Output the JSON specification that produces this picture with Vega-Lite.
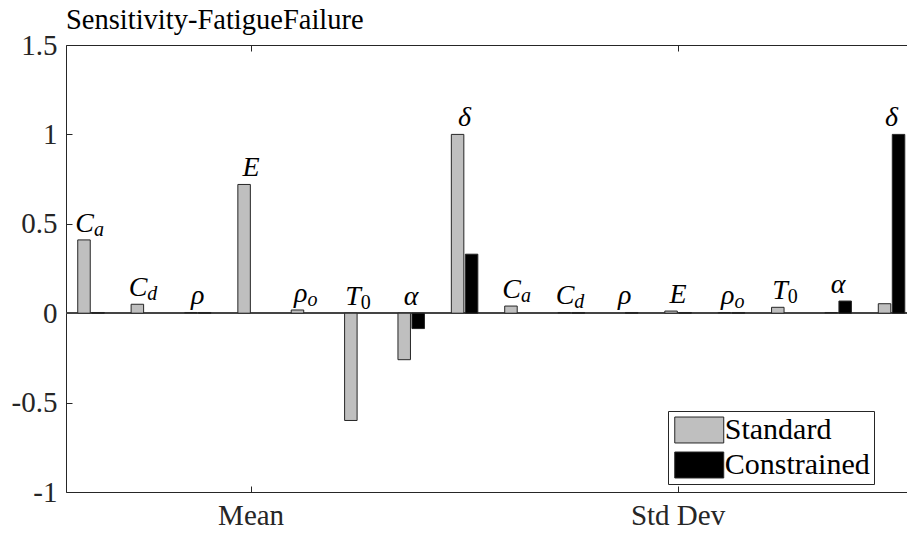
{
  "$schema": "https://vega.github.io/schema/vega-lite/v6.json",
  "width": 841,
  "height": 447,
  "autosize": {"type": "none"},
  "padding": {"left": 66, "top": 45, "right": 0, "bottom": 43},
  "background": "white",
  "title": {
    "text": "Sensitivity-FatigueFailure",
    "anchor": "start",
    "frame": "group",
    "font": "Liberation Serif",
    "fontSize": 28.5,
    "fontWeight": "normal",
    "color": "#000000",
    "baseline": "alphabetic",
    "offset": -26
  },
  "config": {
    "view": {"stroke": null},
    "axis": {
      "grid": false,
      "domainColor": "#262626",
      "tickColor": "#262626",
      "labelColor": "#262626",
      "labelFont": "Liberation Serif",
      "labelFontSize": 29,
      "titleFont": "Liberation Serif"
    }
  },
  "data": {
    "values": [
      {"g": 1, "stat": "Mean", "sym": "C", "sub": "a", "Standard": 0.41, "Constrained": 0.004},
      {"g": 2, "stat": "Mean", "sym": "C", "sub": "d", "Standard": 0.05, "Constrained": 0},
      {"g": 3, "stat": "Mean", "sym": "ρ", "sub": "", "Standard": 0.004, "Constrained": 0.004},
      {"g": 4, "stat": "Mean", "sym": "E", "sub": "", "Standard": 0.72, "Constrained": 0},
      {"g": 5, "stat": "Mean", "sym": "ρ", "sub": "o", "Standard": 0.018, "Constrained": 0},
      {"g": 6, "stat": "Mean", "sym": "T", "sub": "0", "Standard": -0.6, "Constrained": 0},
      {"g": 7, "stat": "Mean", "sym": "α", "sub": "", "Standard": -0.26, "Constrained": -0.086},
      {"g": 8, "stat": "Mean", "sym": "δ", "sub": "", "Standard": 1.0, "Constrained": 0.33},
      {"g": 9, "stat": "Std Dev", "sym": "C", "sub": "a", "Standard": 0.04, "Constrained": 0},
      {"g": 10, "stat": "Std Dev", "sym": "C", "sub": "d", "Standard": 0.004, "Constrained": 0.004},
      {"g": 11, "stat": "Std Dev", "sym": "ρ", "sub": "", "Standard": 0, "Constrained": 0.004},
      {"g": 12, "stat": "Std Dev", "sym": "E", "sub": "", "Standard": 0.012, "Constrained": 0.004},
      {"g": 13, "stat": "Std Dev", "sym": "ρ", "sub": "o", "Standard": 0.004, "Constrained": 0.004},
      {"g": 14, "stat": "Std Dev", "sym": "T", "sub": "0", "Standard": 0.033, "Constrained": 0},
      {"g": 15, "stat": "Std Dev", "sym": "α", "sub": "", "Standard": 0.004, "Constrained": 0.068},
      {"g": 16, "stat": "Std Dev", "sym": "δ", "sub": "", "Standard": 0.053, "Constrained": 1.0}
    ]
  },
  "encoding": {
    "x": {
      "field": "g",
      "type": "ordinal",
      "scale": {"paddingInner": 0.438, "paddingOuter": 0.098, "align": 0.956},
      "axis": null
    },
    "y": {
      "type": "quantitative",
      "scale": {"domain": [-1, 1.5], "nice": false, "zero": false},
      "axis": {
        "title": null,
        "values": [-1, -0.5, 0, 0.5, 1, 1.5],
        "labelExpr": "toString(datum.value)",
        "tickSize": -6,
        "labelPadding": 15
      }
    }
  },
  "layer": [
    {
      "mark": {"type": "rule", "color": "#444444", "strokeWidth": 1},
      "encoding": {"y": {"datum": 0}, "x": null}
    },
    {
      "transform": [{"fold": ["Standard", "Constrained"], "as": ["series", "value"]}],
      "mark": {"type": "bar", "strokeWidth": 1, "stroke": "#262626"},
      "encoding": {
        "y": {"field": "value", "type": "quantitative"},
        "xOffset": {
          "field": "series",
          "type": "nominal",
          "sort": ["Standard", "Constrained"],
          "scale": {"paddingInner": 0.107, "paddingOuter": 0.125}
        },
        "color": {
          "field": "series",
          "type": "nominal",
          "sort": ["Standard", "Constrained"],
          "scale": {"domain": ["Standard", "Constrained"], "range": ["#bfbfbf", "#000000"]},
          "legend": {
            "orient": "none",
            "legendX": 602,
            "legendY": 366,
            "title": null,
            "symbolType": "M-2,-1.06H2V1.06H-2Z",
            "symbolSize": 600,
            "symbolOffset": 12.25,
            "symbolStrokeColor": "#262626",
            "symbolStrokeWidth": 1,
            "symbolOpacity": 1,
            "labelFont": "Liberation Serif",
            "labelFontSize": 30,
            "labelColor": "#000000",
            "labelOffset": 10.5,
            "strokeColor": "#262626",
            "fillColor": "white",
            "padding": 4,
            "rowPadding": 5
          }
        },
        "strokeOpacity": {"condition": {"test": "datum.value === 0", "value": 0}, "value": 1},
        "opacity": {"value": 1}
      }
    },
    {
      "transform": [
        {"calculate": "max(datum.Standard, datum.Constrained, 0)", "as": "top"},
        {"filter": "datum.sub === ''"}
      ],
      "mark": {"type": "text", "font": "Liberation Serif", "fontStyle": "italic", "fontSize": 28, "color": "#000000", "align": "center", "baseline": "alphabetic", "dy": -8},
      "encoding": {"y": {"field": "top", "type": "quantitative"}, "text": {"field": "sym"}}
    },
    {
      "transform": [
        {"calculate": "max(datum.Standard, datum.Constrained, 0)", "as": "top"},
        {"filter": "datum.sub !== ''"}
      ],
      "mark": {"type": "text", "font": "Liberation Serif", "fontStyle": "italic", "fontSize": 28, "color": "#000000", "align": "right", "baseline": "alphabetic", "dx": 3, "dy": -8},
      "encoding": {"y": {"field": "top", "type": "quantitative"}, "text": {"field": "sym"}}
    },
    {
      "transform": [
        {"calculate": "max(datum.Standard, datum.Constrained, 0)", "as": "top"},
        {"filter": "datum.sub !== '' && datum.sub !== '0'"}
      ],
      "mark": {"type": "text", "font": "Liberation Serif", "fontStyle": "italic", "fontSize": 20, "color": "#000000", "align": "left", "baseline": "alphabetic", "dx": 3, "dy": -4},
      "encoding": {"y": {"field": "top", "type": "quantitative"}, "text": {"field": "sub"}}
    },
    {
      "transform": [
        {"calculate": "max(datum.Standard, datum.Constrained, 0)", "as": "top"},
        {"filter": "datum.sub === '0'"}
      ],
      "mark": {"type": "text", "font": "Liberation Serif", "fontStyle": "normal", "fontSize": 20, "color": "#000000", "align": "left", "baseline": "alphabetic", "dx": 3, "dy": -4},
      "encoding": {"y": {"field": "top", "type": "quantitative"}, "text": {"field": "sub"}}
    },
    {
      "mark": {"type": "text", "opacity": 0},
      "encoding": {
        "x": {
          "field": "g",
          "type": "ordinal",
          "axis": {
            "orient": "bottom",
            "title": null,
            "values": [4, 12],
            "labelExpr": "datum.value == 4 ? 'Mean' : 'Std Dev'",
            "labelAngle": 0,
            "tickSize": -6,
            "labelPadding": 15,
            "labelBaseline": "top"
          }
        },
        "y": {"datum": 0},
        "text": {"value": ""}
      }
    },
    {
      "mark": {"type": "text", "opacity": 0},
      "encoding": {
        "x": {
          "field": "g",
          "type": "ordinal",
          "axis": {"orient": "top", "title": null, "values": [4, 12], "labels": false, "tickSize": -6, "domain": true}
        },
        "y": {"datum": 0},
        "text": {"value": ""}
      }
    }
  ]
}
